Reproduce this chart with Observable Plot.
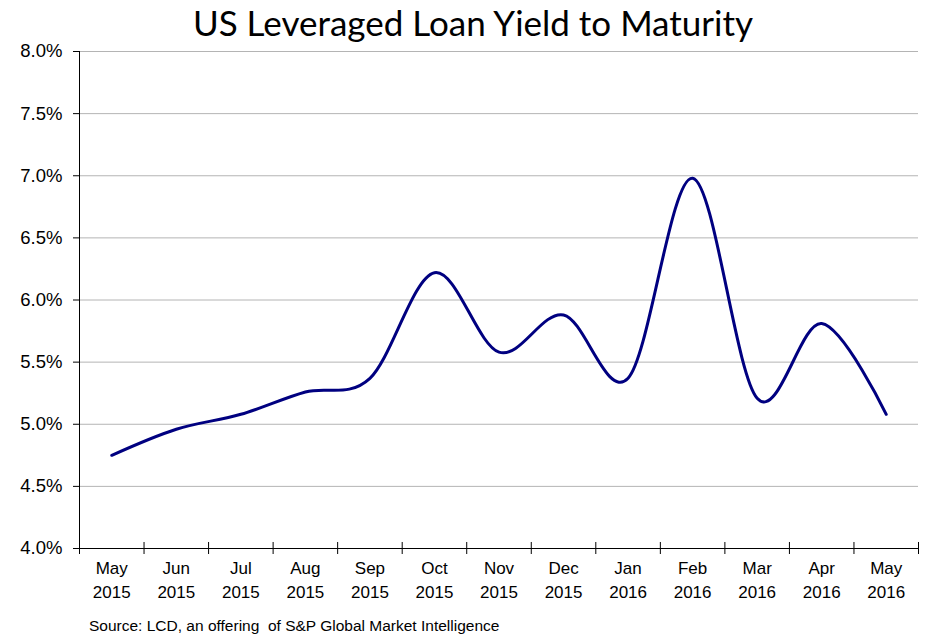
<!DOCTYPE html>
<html>
<head>
<meta charset="utf-8">
<script src="https://cdn.jsdelivr.net/npm/d3@7"></script>
<script src="https://cdn.jsdelivr.net/npm/@observablehq/plot@0.6"></script>
<style>
  html, body { margin: 0; padding: 0; background: #fff; }
  #wrap { position: relative; width: 946px; height: 639px; overflow: hidden; background: #fff; }
  #title { position: absolute; left: 0; top: 0; width: 946px; height: 44px; line-height: 44px;
           text-align: center; font-family: Lato, "Open Sans", sans-serif; font-size: 35px; color: #000; z-index: 2; }
  #chart { position: absolute; left: 0; top: 30px; z-index: 1; }
  #caption { position: absolute; left: 89px; top: 617px; font-family: "Liberation Sans", Arial, sans-serif;
             font-size: 15.5px; color: #000; white-space: nowrap; }
</style>
</head>
<body>
<div id="wrap">
  <div id="chart"></div>
  <div id="title">US Leveraged Loan Yield to Maturity</div>
  <div id="caption">Source: LCD, an offering&nbsp; of S&amp;P Global Market Intelligence</div>
</div>
<script>
const months = ["May","Jun","Jul","Aug","Sep","Oct","Nov","Dec","Jan","Feb","Mar","Apr","May"];
const years  = ["2015","2015","2015","2015","2015","2015","2015","2015","2016","2016","2016","2016","2016"];
const yields = [4.75, 4.96, 5.08, 5.26, 5.37, 6.22, 5.58, 5.88, 5.37, 6.98, 5.21, 5.81, 5.08];
const yTicks = [4.0, 4.5, 5.0, 5.5, 6.0, 6.5, 7.0, 7.5, 8.0];

const data = months.map((m, i) => ({i, label: m + "\n" + years[i], value: yields[i]}));
const boundaries = d3.range(months.length + 1).map(k => k - 0.5);
const yMin = yTicks[0];
const tickHalf = 6 / 124; // ~6px in data units

const chart = Plot.plot({
  width: 946,
  height: 584,
  marginLeft: 79,
  marginRight: 28,
  marginTop: 21,
  marginBottom: 66,
  style: {fontFamily: "'Liberation Sans', Arial, sans-serif", color: "#000", background: "transparent"},
  x: {type: "linear", domain: [-0.5, months.length - 0.5], axis: null},
  y: {domain: [yTicks[0], yTicks[yTicks.length - 1]], axis: null},
  marks: [
    Plot.ruleY(yTicks.slice(1), {stroke: "#b4b4b4", strokeWidth: 1}),
    Plot.axisY(yTicks, {tickSize: 6, tickPadding: 11, fontSize: 18.5, stroke: "#000", strokeOpacity: 1,
      label: null, tickFormat: d => d.toFixed(1) + "%"}),
    Plot.ruleX([-0.5], {stroke: "#000", strokeWidth: 1}),
    Plot.ruleY([yMin], {stroke: "#000", strokeWidth: 1}),
    Plot.ruleX(boundaries, {x: d => d, y1: yMin - tickHalf, y2: yMin + tickHalf, stroke: "#000", strokeWidth: 1}),
    Plot.line(data, {x: "i", y: "value", curve: "cardinal", stroke: "#000080", strokeWidth: 3}),
    Plot.text(data, {x: "i", y: () => yMin, text: "label", dy: 8, lineAnchor: "top", lineHeight: 1.42,
      fontSize: 17, fill: "#000"})
  ]
});
document.getElementById("chart").appendChild(chart);
</script>
</body>
</html>
